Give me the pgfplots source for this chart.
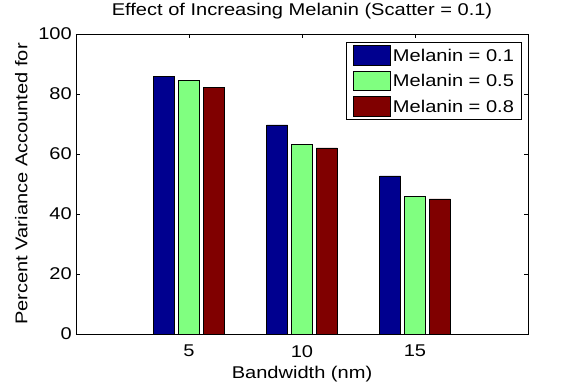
\documentclass[border=0pt]{standalone}
\usepackage{fontspec}
\setmainfont[FakeStretch=1.18]{Liberation Sans}
\usepackage{pgfplots}
\pgfplotsset{compat=1.18}
\definecolor{c1}{rgb}{0,0,0.5625}
\definecolor{c2}{rgb}{0.5,1,0.5}
\definecolor{c3}{rgb}{0.5,0,0}
\pgfplotsset{
  mybar/.style={ybar, bar width=0.93, draw=black, line width=0.5bp,
    legend image code/.code={\draw[##1,/tikz/.cd,line width=0.5bp] (0bp,-9.65bp) rectangle (37bp,9.65bp);}},
}
\begin{document}
\begin{tikzpicture}[font=\fontsize{17bp}{20bp}\selectfont]
\useasboundingbox (-76bp,-52bp) rectangle (509bp,334bp);
\begin{axis}[
  at={(0,0)}, anchor=south west,
  scale only axis, width=452bp, height=300bp,
  xmin=0, xmax=20, ymin=0, ymax=100,
  xtick={5,10,15}, ytick={0,20,40,60,80,100},
  tick align=inside, major tick length=4.5bp,
  tick style={black, line width=0.5bp},
  axis line style={line width=0.6bp},
  /pgf/number format/assume math mode=true,
  title={Effect of Increasing Melanin (Scatter = 0.1)},
  title style={at={(axis description cs:0.5,1)}, anchor=base, yshift=12.5bp, inner sep=0pt},
  xlabel={Bandwidth (nm)},
  xlabel style={at={(axis description cs:0.5,0)}, anchor=base, yshift=-44.3bp, inner sep=0pt},
  ylabel={Percent Variance Accounted for},
  ylabel style={at={(axis description cs:-0.1077,0.5)}, anchor=base, inner sep=0pt},
  yticklabel style={anchor=east, inner sep=0pt, xshift=-4bp},
  xticklabel style={anchor=north, inner sep=0pt, yshift=-11bp},
  legend cell align=left,
  legend style={at={(axis description cs:1,1)}, anchor=north east,
    xshift=-6.3bp, yshift=-7.7bp, draw=black, line width=0.5bp, fill=white,
    inner xsep=7.5bp, inner ysep=3.5bp, row sep=5.7bp, column sep=2bp,
    nodes={inner sep=0pt, text height=12.3bp, text depth=0.7bp}},
]
\addplot[mybar, bar shift=-1.1, fill=c1] coordinates {(5,85.9) (10,69.7) (15,52.7)};
\addplot[mybar, bar shift=0, fill=c2] coordinates {(5,84.6) (10,63.3) (15,45.8)};
\addplot[mybar, bar shift=1.1, fill=c3] coordinates {(5,82.3) (10,62.0) (15,45.0)};
\legend{Melanin = 0.1, Melanin = 0.5, Melanin = 0.8}
\end{axis}
\end{tikzpicture}
\end{document}
